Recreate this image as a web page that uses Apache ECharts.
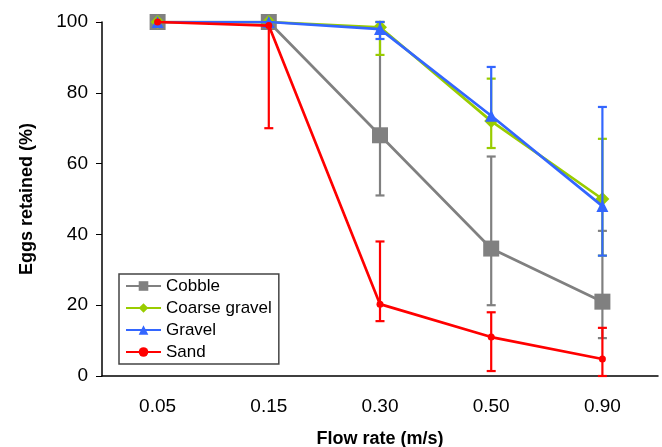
<!DOCTYPE html>
<html>
<head>
<meta charset="utf-8">
<script src="https://cdn.jsdelivr.net/npm/echarts@6/dist/echarts.min.js"></script>
<style>
  html, body { margin: 0; padding: 0; background: #fff; }
  #chart { width: 662px; height: 447px; }
</style>
</head>
<body>
<div id="chart"></div>
<script>
// flow rates (categories)
var categories = ['0.05', '0.15', '0.30', '0.50', '0.90'];

// mean eggs retained (%)
var cobble = [100, 100, 68, 36, 21];
var coarseGravel = [100, 100, 98.5, 72, 50];
var gravel = [100, 100, 98, 73.5, 48];
var sand = [100, 99, 20.3, 11, 4.8];

// error bar ends (low / high)
var cobbleLow = [100, 100, 51, 20, 10.7];
var cobbleHigh = [100, 100, 100, 62, 41];
var coarseLow = [100, 100, 90.7, 64.4, 34];
var coarseHigh = [100, 100, 100, 84, 67];
var gravelLow = [100, 100, 95.2, 73.5, 34];
var gravelHigh = [100, 100, 100, 87.3, 76];
var sandLow = [100, 70, 15.5, 1.4, 0];
var sandHigh = [100, 99, 38, 18, 13.6];

var chart = echarts.init(document.getElementById('chart'));

// build [index, mean, low, high] rows for the error bar series
function errRows(mean, low, high) {
  return categories.map(function (c, i) {
    return [i, mean[i], low[i], high[i]];
  });
}

function errSeries(name, color, mean, low, high, z) {
  return {
    name: name + ' err',
    type: 'custom',
    z: z,
    silent: true,
    data: errRows(mean, low, high),
    renderItem: function (params, api) {
      var i = api.value(0);
      var m = api.value(1), lo = api.value(2), hi = api.value(3);
      var pm = api.coord([i, m]);
      var pl = api.coord([i, lo]);
      var ph = api.coord([i, hi]);
      var hw = 4.5;
      var style = { stroke: color, lineWidth: 2.2 };
      var kids = [];
      if (hi > m) {
        kids.push({ type: 'line', shape: { x1: pm[0], y1: pm[1], x2: ph[0], y2: ph[1] }, style: style });
        kids.push({ type: 'line', shape: { x1: ph[0] - hw, y1: ph[1], x2: ph[0] + hw, y2: ph[1] }, style: style });
      }
      if (lo < m) {
        kids.push({ type: 'line', shape: { x1: pm[0], y1: pm[1], x2: pl[0], y2: pl[1] }, style: style });
        kids.push({ type: 'line', shape: { x1: pl[0] - hw, y1: pl[1], x2: pl[0] + hw, y2: pl[1] }, style: style });
      }
      return { type: 'group', children: kids };
    }
  };
}

function lineSeries(name, color, data, symbol, size, z) {
  return {
    name: name,
    type: 'line',
    z: z,
    data: data,
    symbol: symbol,
    symbolSize: size,
    showSymbol: true,
    itemStyle: { color: color },
    lineStyle: { color: color, width: 2.7 }
  };
}

var option = {
  animation: false,
  textStyle: { fontFamily: '"Liberation Sans", Arial, sans-serif' },
  grid: { left: 102, right: 4, top: 22, bottom: 71, containLabel: false, outerBoundsMode: 'none' },
  legend: {
    data: ['Cobble', 'Coarse gravel', 'Gravel', 'Sand'],
    orient: 'vertical',
    left: 119,
    top: 274,
    padding: [3, 7, 3, 6],
    itemWidth: 35,
    itemHeight: 12,
    itemGap: 4,
    borderColor: '#444',
    borderWidth: 1.5,
    backgroundColor: '#fff',
    textStyle: { fontSize: 17, color: '#000', lineHeight: 18 }
  },
  xAxis: {
    type: 'category',
    data: categories,
    name: 'Flow rate (m/s)',
    nameLocation: 'middle',
    nameGap: 54,
    nameTextStyle: { fontSize: 18, fontWeight: 'bold', color: '#000' },
    axisLine: { lineStyle: { color: '#000', width: 1.5 } },
    axisTick: { show: false },
    axisLabel: { fontSize: 19, color: '#000', margin: 21 }
  },
  yAxis: {
    type: 'value',
    min: 0,
    max: 100,
    interval: 20,
    name: 'Eggs retained (%)',
    nameLocation: 'middle',
    nameGap: 66,
    nameTextStyle: { fontSize: 18, fontWeight: 'bold', color: '#000' },
    axisLine: { show: true, lineStyle: { color: '#000', width: 1.5 } },
    axisTick: { show: true, length: 6, lineStyle: { color: '#000' } },
    axisLabel: { fontSize: 19, color: '#000', margin: 14 },
    splitLine: { show: false }
  },
  series: [
    errSeries('Cobble', '#808080', cobble, cobbleLow, cobbleHigh, 1),
    lineSeries('Cobble', '#808080', cobble, 'rect', 16, 2),
    errSeries('Coarse gravel', '#99CC00', coarseGravel, coarseLow, coarseHigh, 3),
    lineSeries('Coarse gravel', '#99CC00', coarseGravel, 'diamond', 14, 4),
    errSeries('Gravel', '#3366FF', gravel, gravelLow, gravelHigh, 5),
    lineSeries('Gravel', '#3366FF', gravel, 'triangle', 12, 6),
    errSeries('Sand', '#FF0000', sand, sandLow, sandHigh, 7),
    lineSeries('Sand', '#FF0000', sand, 'circle', 7, 8)
  ]
};

chart.setOption(option);
</script>
</body>
</html>
